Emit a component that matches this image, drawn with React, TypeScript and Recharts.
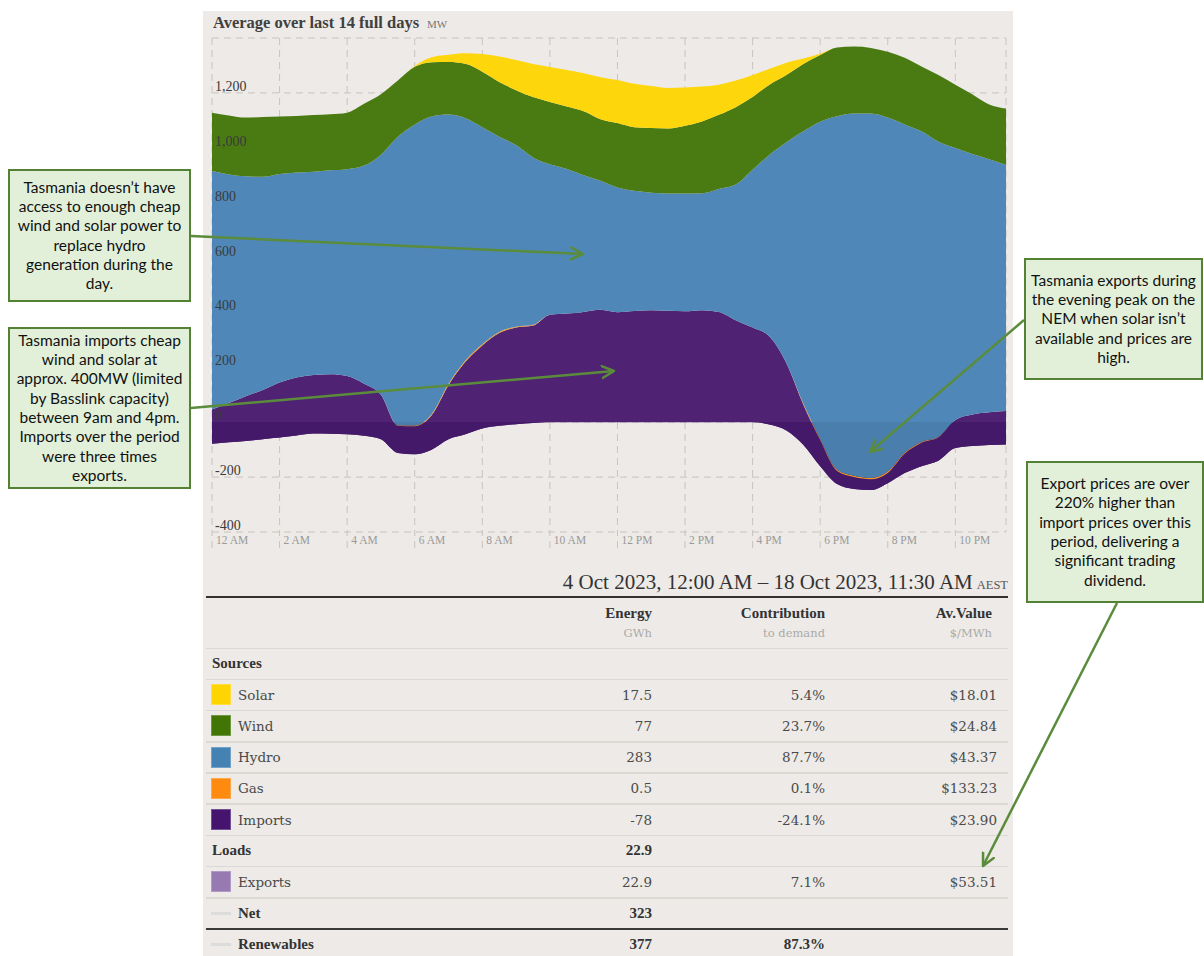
import React from 'react';
import { AreaChart, Area, XAxis, YAxis, CartesianGrid } from 'recharts';

// half-hour slots, hours since midnight
const TIMES = [
  0, 0.5, 1, 1.5, 2, 2.5, 3, 3.5, 4, 4.5, 5, 5.5, 6, 6.5, 7, 7.5, 8, 8.5, 9, 9.5, 10, 10.5, 11, 11.5,
  12, 12.5, 13, 13.5, 14, 14.5, 15, 15.5, 16, 16.5, 17, 17.5, 18, 18.5, 19, 19.5, 20, 20.5, 21, 21.5,
  22, 22.5, 23, 23.5,
];

// MW, average over 14 days
const EXPORTS = [
  -78, -73, -68, -62, -56, -48, -41, -42, -44, -49, -62, -112, -117, -100, -62, -44, -23, -13, -7, -3, 0, 0, 0, 0,
  0, 0, 0, 0, 0, 0, 0, 0, 0, -8, -30, -82, -160, -225, -243, -247, -222, -185, -160, -140, -94, -87, -83, -81,
];
const IMPORTS = [
  124, 143, 163, 179, 201, 211, 213, 217, 212, 189, 162, 99, 102, 125, 197, 264, 303, 338, 352, 355, 392, 396, 402, 410,
  401, 405, 408, 406, 404, 408, 402, 372, 345, 320, 245, 147, 95, 47, 43, 39, 37, 70, 85, 85, 102, 115, 119, 122,
];
const GAS = [
  0, 0, 0, 0, 0, 0, 0, 0, 0, 0, 0, 2, 3, 4, 5, 5, 4, 4, 3, 3, 0, 0, 0, 0,
  0, 0, 0, 0, 0, 0, 0, 0, 0, 0, 0, 3, 4, 5, 5, 5, 5, 4, 3, 2, 0, 0, 0, 0,
];
const HYDRO = [
  869, 833, 801, 777, 759, 747, 741, 743, 754, 795, 875, 1051, 1097, 1085, 981, 883, 791, 711, 662, 610, 548, 527, 498, 470,
  454, 438, 428, 427, 429, 426, 448, 494, 575, 663, 805, 992, 1156, 1288, 1320, 1328, 1290, 1196, 1132, 1075, 991, 949, 922, 896,
];
const WIND = [
  213, 215, 214, 218, 210, 206, 206, 204, 206, 225, 220, 205, 210, 198, 192, 198, 202, 200, 200, 220, 227, 227, 233, 224,
  235, 232, 236, 237, 247, 262, 270, 282, 265, 255, 245, 245, 243, 250, 244, 239, 240, 243, 236, 243, 231, 218, 200, 206,
];
const SOLAR = [
  0, 0, 0, 0, 0, 0, 0, 0, 0, 0, 0, 0, 3, 18, 26, 38, 65, 93, 110, 120, 127, 133, 139, 153,
  157, 158, 153, 148, 140, 127, 110, 97, 80, 58, 45, 20, 5, 0, 0, 0, 0, 0, 0, 0, 0, 0, 0, 0,
];

const X_TICKS = [0, 2, 4, 6, 8, 10, 12, 14, 16, 18, 20, 22];
const X_TICK_LABELS = ['12 AM', '2 AM', '4 AM', '6 AM', '8 AM', '10 AM', '12 PM', '2 PM', '4 PM', '6 PM', '8 PM', '10 PM'];
const Y_TICKS = [-400, -200, 0, 200, 400, 600, 800, 1000, 1200, 1400];
const Y_MIN = -400;
const Y_MAX = 1400;

// summary table
const SOURCE_NAMES = ['Solar', 'Wind', 'Hydro', 'Gas', 'Imports'];
const SOURCE_COLORS = ['#FED500', '#417505', '#4582B4', '#FE8A0F', '#44146F'];
const SOURCE_ENERGY = ['17.5', '77', '283', '0.5', '-78'];
const SOURCE_CONTRIB = ['5.4%', '23.7%', '87.7%', '0.1%', '-24.1%'];
const SOURCE_VALUE = ['$18.01', '$24.84', '$43.37', '$133.23', '$23.90'];
const LOADS_ENERGY = '22.9';
const EXPORTS_ROW = { name: 'Exports', color: '#977AB1', energy: '22.9', contrib: '7.1%', value: '$53.51' };
const NET_ENERGY = '323';
const RENEW_ENERGY = '377';
const RENEW_CONTRIB = '87.3%';

const NOTES = [
  {
    box: [8, 169, 183, 133],
    lines: ['Tasmania doesn\u2019t have', 'access to enough cheap', 'wind and solar power to', 'replace hydro', 'generation during the', 'day.'],
    arrow: [191, 236, 583, 254],
  },
  {
    box: [8, 327, 183, 162],
    lines: ['Tasmania imports cheap', 'wind and solar at', 'approx. 400MW (limited', 'by Basslink capacity)', 'between 9am and 4pm.', 'Imports over the period', 'were three times', 'exports.'],
    arrow: [191, 408, 614, 371],
  },
  {
    box: [1024, 258, 179, 122],
    lines: ['Tasmania exports during', 'the evening peak on the', 'NEM when solar isn\u2019t', 'available and prices are', 'high.'],
    arrow: [1024, 320, 870, 452],
  },
  {
    box: [1026, 461, 178, 142],
    lines: ['Export prices are over', '220% higher than', 'import prices over this', 'period, delivering a', 'significant trading', 'dividend.'],
    arrow: [1117, 603, 983, 866],
  },
];

const data = TIMES.map((t, i) => ({
  t,
  exports: EXPORTS[i],
  imports: IMPORTS[i],
  gas: GAS[i],
  hydro: HYDRO[i],
  wind: WIND[i],
  solar: SOLAR[i],
}));

const CHART_W = 810;
const CHART_H = 530;
const PLOT_LEFT = 9;
const PLOT_TOP = 8;
const PLOT_H = 494;
const ZERO = (Y_MAX - 0) / (Y_MAX - Y_MIN);

const serif = '"Liberation Serif", "DejaVu Serif", serif';
const bodySerif = '"DejaVu Serif", serif';

const YTick = ({ y, payload }: any) => {
  if (payload.value === Y_MAX) return <g />;
  return (
    <text x={PLOT_LEFT + 3} y={y - 2} fontFamily={serif} fontSize={14} fill="#3a3a3a" textAnchor="start">
      {Number(payload.value).toLocaleString('en-US')}
    </text>
  );
};

const XTick = ({ x, payload }: any) => {
  const idx = X_TICKS.indexOf(payload.value);
  return (
    <text x={x + 4} y={PLOT_TOP + PLOT_H + 12} fontFamily={serif} fontSize={11.5} fill="#9a9a9a">
      {X_TICK_LABELS[idx]}
    </text>
  );
};

const Cell = ({ left, text, bold, color }: any) => (
  <div
    style={{
      position: 'absolute',
      left,
      width: 110,
      top: 0,
      height: '100%',
      display: 'flex',
      alignItems: 'center',
      justifyContent: 'flex-end',
      fontFamily: bold ? serif : bodySerif,
      fontWeight: bold ? 700 : 400,
      fontSize: bold ? 15 : 13.5,
      color: color || (bold ? '#333' : '#4a4a4a'),
    }}
  >
    {text}
  </div>
);

function Row({ top, swatch, dash, label, bold, indent, energy, contrib, value, line }: any) {
  return (
    <div style={{ position: 'absolute', left: 206, top, width: 802, height: 31.2 }}>
      {swatch && (
        <div style={{ position: 'absolute', left: 5, top: 5, width: 20, height: 21, background: swatch, boxShadow: 'inset 0 0 0 1px rgba(255,255,255,0.25)' }} />
      )}
      {dash && <div style={{ position: 'absolute', left: 5, top: 14, width: 20, height: 3, background: '#dcdcdc' }} />}
      <div
        style={{
          position: 'absolute',
          left: indent ? 32 : 6,
          top: 0,
          height: '100%',
          display: 'flex',
          alignItems: 'center',
          fontFamily: bold ? serif : bodySerif,
          fontWeight: bold ? 700 : 400,
          fontSize: bold ? 15 : 13.5,
          color: bold ? '#333' : '#4a4a4a',
        }}
      >
        {label}
      </div>
      {energy && <Cell left={336} text={energy} bold={bold} />}
      {contrib && <Cell left={509} text={contrib} bold={bold} />}
      {value && <Cell left={681} text={value} />}
      {line && (
        <div style={{ position: 'absolute', left: 0, bottom: -1, width: 802, height: line === 'dark' ? 2 : 1.5, background: line === 'dark' ? '#3a3a3a' : '#dcd9d5' }} />
      )}
    </div>
  );
}

export default function App() {
  const ROW_TOP = 648;
  const ROW_H = 31.2;
  const rowTop = (i: number) => ROW_TOP + i * ROW_H;

  return (
    <div style={{ position: 'absolute', left: 0, top: 0, width: 1204, height: 956, background: '#fff', overflow: 'hidden' }}>
      <div style={{ position: 'absolute', left: 203, top: 11, width: 810, height: 945, background: '#EDEAE7' }} />

      {/* title */}
      <div style={{ position: 'absolute', left: 213, top: 13, whiteSpace: 'nowrap', fontFamily: serif }}>
        <span style={{ fontSize: 16.5, fontWeight: 700, color: '#404040' }}>Average over last 14 full days</span>
        <span style={{ fontSize: 11, color: '#777', marginLeft: 8 }}>MW</span>
      </div>

      <div style={{ position: 'absolute', left: 203, top: 30 }}>
        <AreaChart width={CHART_W} height={CHART_H} data={data} margin={{ top: PLOT_TOP, right: 7, bottom: 0, left: PLOT_LEFT }}>
          <defs>
            <linearGradient id="impFill" gradientUnits="userSpaceOnUse" x1="0" y1={PLOT_TOP} x2="0" y2={PLOT_TOP + PLOT_H}>
              <stop offset={0} stopColor="#4F2273" />
              <stop offset={ZERO} stopColor="#4F2273" />
              <stop offset={ZERO} stopColor="#45196A" />
              <stop offset={1} stopColor="#45196A" />
            </linearGradient>
            <linearGradient id="hydroFill" gradientUnits="userSpaceOnUse" x1="0" y1={PLOT_TOP} x2="0" y2={PLOT_TOP + PLOT_H}>
              <stop offset={0} stopColor="#4F88B8" />
              <stop offset={ZERO} stopColor="#4F88B8" />
              <stop offset={ZERO} stopColor="#497EAD" />
              <stop offset={1} stopColor="#497EAD" />
            </linearGradient>
          </defs>
          <CartesianGrid stroke="#c8c4c0" strokeDasharray="7 5" />
          <XAxis
            dataKey="t"
            type="number"
            domain={[0, 23.5]}
            ticks={X_TICKS}
            interval={0}
            height={28}
            axisLine={false}
            tickSize={16}
            tickLine={{ stroke: '#c8c4c0', strokeDasharray: '7 5' }}
            tick={<XTick />}
          />
          <Area type="monotone" dataKey="exports" stackId="1" stroke="none" fill="#45196A" fillOpacity={1} isAnimationActive={false} dot={false} activeDot={false} />
          <Area type="monotone" dataKey="imports" stackId="1" stroke="none" fill="url(#impFill)" fillOpacity={1} isAnimationActive={false} dot={false} activeDot={false} />
          <Area type="monotone" dataKey="gas" stackId="1" stroke="none" fill="#F7941D" fillOpacity={1} isAnimationActive={false} dot={false} activeDot={false} />
          <Area type="monotone" dataKey="hydro" stackId="1" stroke="none" fill="url(#hydroFill)" fillOpacity={1} isAnimationActive={false} dot={false} activeDot={false} />
          <Area type="monotone" dataKey="wind" stackId="1" stroke="none" fill="#4A7B13" fillOpacity={1} isAnimationActive={false} dot={false} activeDot={false} />
          <Area type="monotone" dataKey="solar" stackId="1" stroke="none" fill="#FED60C" fillOpacity={1} isAnimationActive={false} dot={false} activeDot={false} />
          <YAxis
            type="number"
            domain={[Y_MIN, Y_MAX]}
            ticks={Y_TICKS}
            interval={0}
            mirror
            axisLine={false}
            tickLine={false}
            allowDataOverflow
            tick={<YTick />}
          />
        </AreaChart>
      </div>

      {/* period */}
      <div style={{ position: 'absolute', left: 300, width: 708, top: 570, textAlign: 'right', whiteSpace: 'nowrap', fontFamily: serif, color: '#333' }}>
        <span style={{ fontSize: 21 }}>4 Oct 2023, 12:00 AM – 18 Oct 2023, 11:30 AM</span>
        <span style={{ fontSize: 12.5, color: '#555', marginLeft: 4 }}>AEST</span>
      </div>
      <div style={{ position: 'absolute', left: 206, top: 596, width: 802, height: 2, background: '#333' }} />

      {/* table header */}
      <div style={{ position: 'absolute', left: 206, top: 598, width: 802, height: 50 }}>
        {[
          ['Energy', 'GWh', 336],
          ['Contribution', 'to demand', 509],
          ['Av.Value', '$/MWh', 676],
        ].map(([h, u, l]) => (
          <div key={h as string} style={{ position: 'absolute', left: l as number, width: 110, top: 5, textAlign: 'right' }}>
            <div style={{ fontFamily: serif, fontWeight: 700, fontSize: 15, color: '#333', lineHeight: '20px' }}>{h}</div>
            <div style={{ fontFamily: bodySerif, fontSize: 11.5, color: '#aaa', lineHeight: '20px' }}>{u}</div>
          </div>
        ))}
        <div style={{ position: 'absolute', left: 0, bottom: -1, width: 802, height: 1.5, background: '#dcd9d5' }} />
      </div>

      <Row top={rowTop(0)} label="Sources" bold line="light" />
      {SOURCE_NAMES.map((name, i) => (
        <Row
          key={name}
          top={rowTop(1 + i)}
          swatch={SOURCE_COLORS[i]}
          label={name}
          indent
          energy={SOURCE_ENERGY[i]}
          contrib={SOURCE_CONTRIB[i]}
          value={SOURCE_VALUE[i]}
          line="light"
        />
      ))}
      <Row top={rowTop(6)} label="Loads" bold energy={LOADS_ENERGY} line="light" />
      <Row
        top={rowTop(7)}
        swatch={EXPORTS_ROW.color}
        label={EXPORTS_ROW.name}
        indent
        energy={EXPORTS_ROW.energy}
        contrib={EXPORTS_ROW.contrib}
        value={EXPORTS_ROW.value}
        line="light"
      />
      <Row top={rowTop(8)} dash label="Net" bold indent energy={NET_ENERGY} line="dark" />
      <Row top={rowTop(9)} dash label="Renewables" bold indent energy={RENEW_ENERGY} contrib={RENEW_CONTRIB} />

      {/* callouts */}
      {NOTES.map((n, i) => (
        <div
          key={i}
          style={{
            position: 'absolute',
            left: n.box[0],
            top: n.box[1],
            width: n.box[2],
            height: n.box[3],
            boxSizing: 'border-box',
            border: '2.5px solid #548235',
            background: '#E2F0D9',
            display: 'flex',
            flexDirection: 'column',
            justifyContent: 'center',
            alignItems: 'center',
            fontFamily: 'Lato, "Noto Sans", sans-serif',
            fontSize: 15.5,
            lineHeight: '19.3px',
            color: '#111',
            textAlign: 'center',
            whiteSpace: 'nowrap',
          }}
        >
          {n.lines.map((l) => (
            <div key={l}>{l}</div>
          ))}
        </div>
      ))}

      <svg width={1204} height={956} style={{ position: 'absolute', left: 0, top: 0, pointerEvents: 'none' }}>
        <defs>
          <marker id="head" markerUnits="userSpaceOnUse" markerWidth="16" markerHeight="16" refX="13" refY="7" orient="auto">
            <path d="M1,1 L13,7 L1,13" fill="none" stroke="#5A8C3B" strokeWidth="2.5" strokeLinecap="round" strokeLinejoin="round" />
          </marker>
        </defs>
        {NOTES.map((n, i) => (
          <line
            key={i}
            x1={n.arrow[0]}
            y1={n.arrow[1]}
            x2={n.arrow[2]}
            y2={n.arrow[3]}
            stroke="#5A8C3B"
            strokeWidth={2.5}
            markerEnd="url(#head)"
          />
        ))}
      </svg>
    </div>
  );
}
